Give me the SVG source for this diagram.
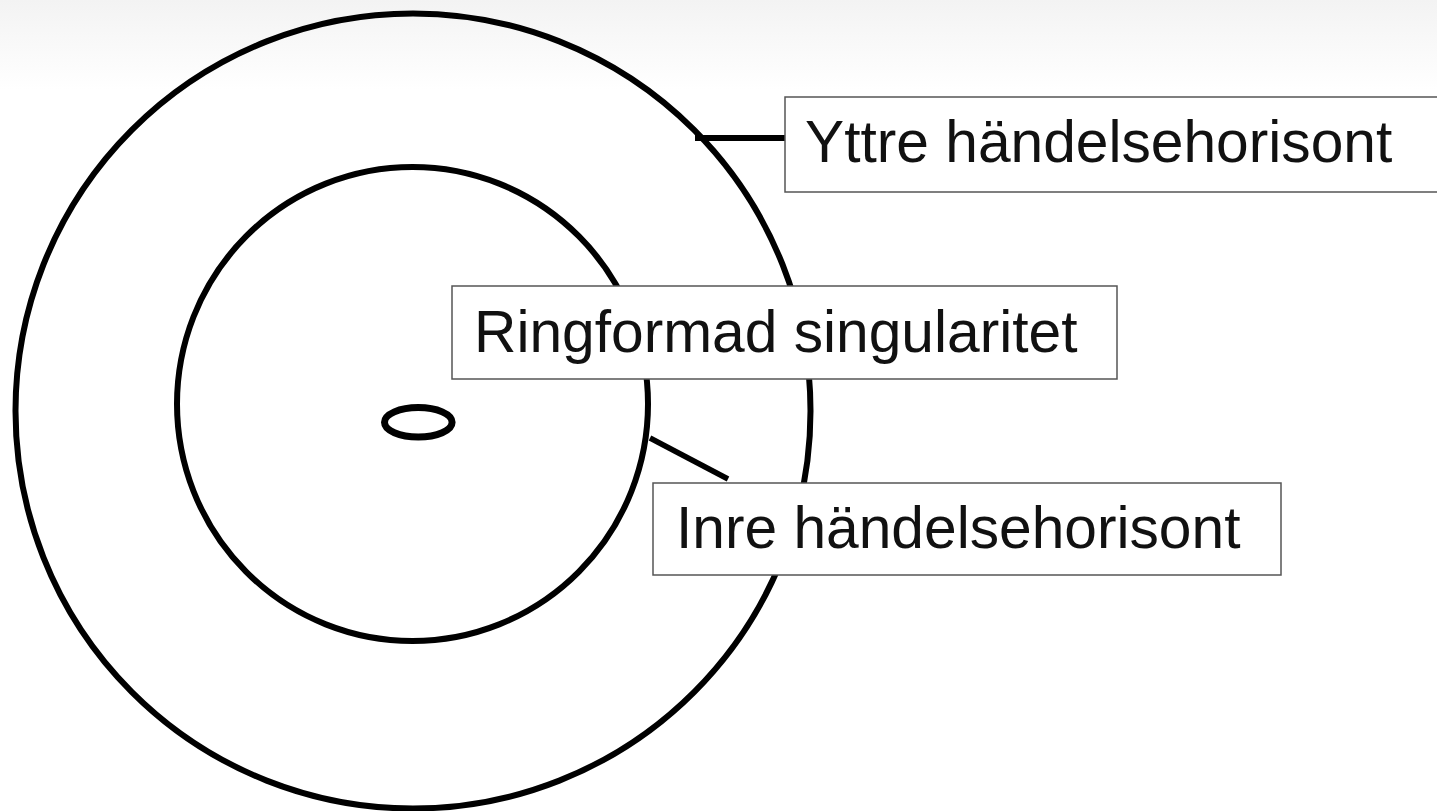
<svg xmlns="http://www.w3.org/2000/svg" width="1437" height="811" viewBox="0 0 1437 811">
  <defs>
    <linearGradient id="bg" x1="0" y1="0" x2="0" y2="1">
      <stop offset="0" stop-color="#f3f3f3"/>
      <stop offset="1" stop-color="#ffffff"/>
    </linearGradient>
    <style>
      .ring { fill: none; stroke: #000; stroke-width: 6; }
      .conn { stroke: #000; stroke-width: 6; fill: none; }
      .box { fill: #fff; stroke: #555; stroke-width: 1.5; }
      .lbl { font-family: "Liberation Sans", Arial, sans-serif; font-size: 58.7px; fill: #111; }
    </style>
  </defs>
  <rect x="0" y="0" width="1437" height="811" fill="#fff"/>
  <rect x="0" y="0" width="1437" height="90" fill="url(#bg)"/>

  <g id="outer-horizon">
    <circle class="ring" cx="413" cy="411" r="397.5"/>
  </g>
  <g id="inner-horizon">
    <ellipse class="ring" cx="412.5" cy="404" rx="235.5" ry="237"/>
  </g>
  <g id="singularity">
    <ellipse class="ring" cx="418.3" cy="422.3" rx="33.8" ry="14.8" style="stroke-width:7"/>
  </g>

  <g id="connectors">
    <line class="conn" x1="695" y1="138" x2="786" y2="138"/>
    <line class="conn" x1="650" y1="438" x2="728" y2="479" style="stroke-width:5.5"/>
  </g>

  <g id="label-outer">
    <rect class="box" x="785" y="97" width="660" height="95"/>
    <text class="lbl" x="805" y="162">Yttre händelsehorisont</text>
  </g>
  <g id="label-singularity">
    <rect class="box" x="452" y="286" width="665" height="93"/>
    <text class="lbl" x="474" y="352">Ringformad singularitet</text>
  </g>
  <g id="label-inner">
    <rect class="box" x="653" y="483" width="628" height="92"/>
    <text class="lbl" x="676" y="548">Inre händelsehorisont</text>
  </g>
</svg>
